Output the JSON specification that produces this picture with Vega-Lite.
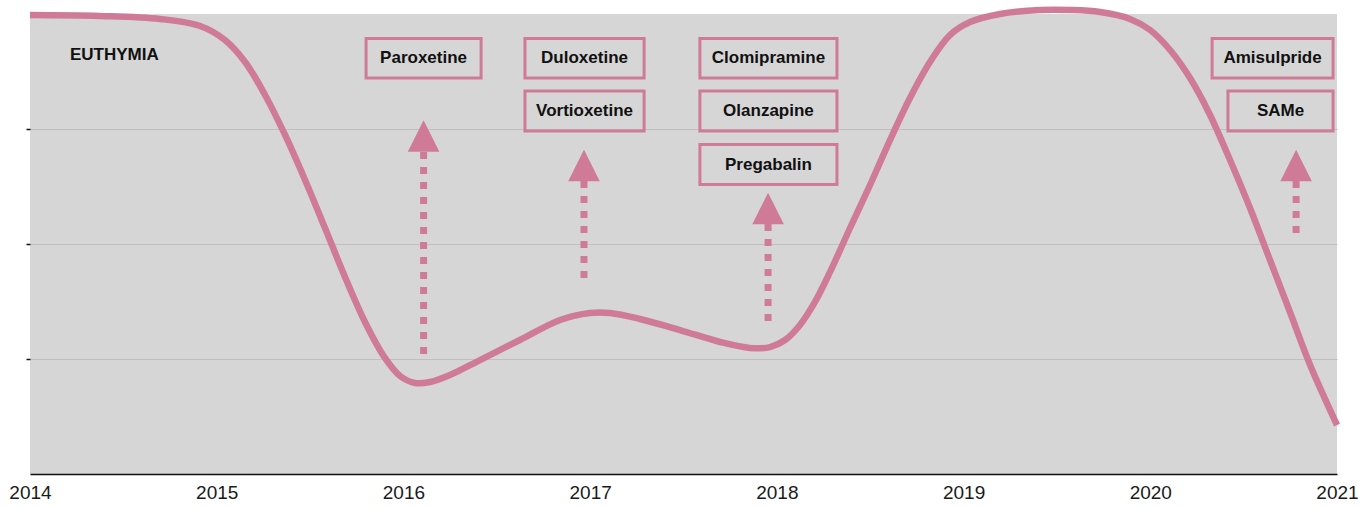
{
  "$schema": "https://vega.github.io/schema/vega-lite/v6.json",
  "width": 1307,
  "height": 460,
  "autosize": "none",
  "padding": {"left": 30, "top": 14, "right": 33, "bottom": 33},
  "background": "#ffffff",
  "config": {
    "view": {"fill": "#d6d6d6", "stroke": null},
    "font": "Liberation Sans"
  },
  "datasets": {
    "curve": [
      {"year": 2014.000, "value": 3.991},
      {"year": 2014.375, "value": 3.983},
      {"year": 2014.696, "value": 3.957},
      {"year": 2014.911, "value": 3.896},
      {"year": 2015.044, "value": 3.774},
      {"year": 2015.152, "value": 3.583},
      {"year": 2015.259, "value": 3.296},
      {"year": 2015.366, "value": 2.948},
      {"year": 2015.473, "value": 2.557},
      {"year": 2015.580, "value": 2.139},
      {"year": 2015.687, "value": 1.713},
      {"year": 2015.794, "value": 1.322},
      {"year": 2015.901, "value": 1.009},
      {"year": 2015.982, "value": 0.852},
      {"year": 2016.062, "value": 0.791},
      {"year": 2016.142, "value": 0.800},
      {"year": 2016.249, "value": 0.861},
      {"year": 2016.410, "value": 0.991},
      {"year": 2016.624, "value": 1.165},
      {"year": 2016.839, "value": 1.339},
      {"year": 2016.999, "value": 1.400},
      {"year": 2017.106, "value": 1.400},
      {"year": 2017.267, "value": 1.348},
      {"year": 2017.481, "value": 1.252},
      {"year": 2017.696, "value": 1.148},
      {"year": 2017.856, "value": 1.096},
      {"year": 2017.963, "value": 1.104},
      {"year": 2018.044, "value": 1.165},
      {"year": 2018.124, "value": 1.296},
      {"year": 2018.204, "value": 1.496},
      {"year": 2018.285, "value": 1.757},
      {"year": 2018.392, "value": 2.139},
      {"year": 2018.499, "value": 2.513},
      {"year": 2018.606, "value": 2.904},
      {"year": 2018.713, "value": 3.270},
      {"year": 2018.820, "value": 3.583},
      {"year": 2018.927, "value": 3.817},
      {"year": 2019.035, "value": 3.930},
      {"year": 2019.195, "value": 4.000},
      {"year": 2019.409, "value": 4.035},
      {"year": 2019.570, "value": 4.035},
      {"year": 2019.731, "value": 4.017},
      {"year": 2019.891, "value": 3.957},
      {"year": 2019.999, "value": 3.861},
      {"year": 2020.106, "value": 3.687},
      {"year": 2020.213, "value": 3.443},
      {"year": 2020.320, "value": 3.122},
      {"year": 2020.427, "value": 2.730},
      {"year": 2020.534, "value": 2.313},
      {"year": 2020.641, "value": 1.861},
      {"year": 2020.748, "value": 1.409},
      {"year": 2020.856, "value": 0.948},
      {"year": 2021.000, "value": 0.426}
    ],
    "boxes": [
      {"drug": "Paroxetine", "year": 2015.800, "year2": 2016.416, "mid": 2016.108, "value": 3.787, "value2": 3.443, "vmid": 3.615},
      {"drug": "Duloxetine", "year": 2016.651, "year2": 2017.289, "mid": 2016.970, "value": 3.787, "value2": 3.443, "vmid": 3.615},
      {"drug": "Vortioxetine", "year": 2016.651, "year2": 2017.289, "mid": 2016.970, "value": 3.330, "value2": 2.983, "vmid": 3.157},
      {"drug": "Clomipramine", "year": 2017.588, "year2": 2018.322, "mid": 2017.955, "value": 3.787, "value2": 3.443, "vmid": 3.615},
      {"drug": "Olanzapine", "year": 2017.588, "year2": 2018.322, "mid": 2017.955, "value": 3.330, "value2": 2.983, "vmid": 3.157},
      {"drug": "Pregabalin", "year": 2017.588, "year2": 2018.322, "mid": 2017.955, "value": 2.865, "value2": 2.517, "vmid": 2.691},
      {"drug": "Amisulpride", "year": 2020.331, "year2": 2020.979, "mid": 2020.655, "value": 3.787, "value2": 3.443, "vmid": 3.615},
      {"drug": "SAMe", "year": 2020.416, "year2": 2020.979, "mid": 2020.698, "value": 3.330, "value2": 2.983, "vmid": 3.157}
    ],
    "arrows": [
      {"year": 2016.108, "top": 2.800, "bottom": 1.009, "head": 2.939},
      {"year": 2016.967, "top": 2.548, "bottom": 1.696, "head": 2.683},
      {"year": 2017.953, "top": 2.174, "bottom": 1.322, "head": 2.309},
      {"year": 2020.781, "top": 2.548, "bottom": 2.052, "head": 2.683}
    ],
    "notes": [
      {"label": "EUTHYMIA", "year": 2014.214, "value": 3.643}
    ]
  },
  "layer": [
    {
      "data": {"name": "curve"},
      "mark": {"type": "line", "interpolate": "catmull-rom", "color": "#cf7b98", "strokeWidth": 6.5, "clip": false},
      "encoding": {
        "x": {
          "field": "year", "type": "quantitative",
          "scale": {"domain": [2014, 2021], "nice": false, "zero": false},
          "axis": {
            "title": null, "values": [2014, 2015, 2016, 2017, 2018, 2019, 2020, 2021],
            "format": "d", "labelFlush": false, "labelOverlap": false,
            "labelFontSize": 19, "labelColor": "#1a1a1a", "labelFont": "Liberation Sans",
            "labelPadding": 9, "ticks": false, "grid": false,
            "domain": true, "domainColor": "#111111", "domainWidth": 1.5
          }
        },
        "y": {
          "field": "value", "type": "quantitative",
          "scale": {"domain": [0, 4], "nice": false, "zero": false},
          "axis": {
            "title": null, "values": [1, 2, 3], "labels": false,
            "ticks": true, "tickSize": 4, "tickColor": "#111111", "tickWidth": 1.5,
            "domain": false, "grid": true, "gridColor": "#bfbfbf", "gridWidth": 1
          }
        }
      }
    },
    {
      "data": {"name": "boxes"},
      "mark": {"type": "rect", "fill": "#d6d6d6", "fillOpacity": 0, "stroke": "#cf7b98", "strokeWidth": 3},
      "encoding": {
        "x": {"field": "year", "type": "quantitative", "title": null},
        "x2": {"field": "year2"},
        "y": {"field": "value", "type": "quantitative", "title": null},
        "y2": {"field": "value2"}
      }
    },
    {
      "data": {"name": "boxes"},
      "mark": {"type": "text", "font": "Liberation Sans", "fontWeight": "bold", "fontSize": 17, "color": "#111111", "align": "center", "baseline": "middle"},
      "encoding": {
        "x": {"field": "mid", "type": "quantitative", "title": null},
        "y": {"field": "vmid", "type": "quantitative", "title": null},
        "text": {"field": "drug"}
      }
    },
    {
      "data": {"name": "arrows"},
      "mark": {"type": "rule", "color": "#cf7b98", "strokeWidth": 7, "strokeDash": [7, 8]},
      "encoding": {
        "x": {"field": "year", "type": "quantitative", "title": null},
        "y": {"field": "top", "type": "quantitative", "title": null},
        "y2": {"field": "bottom"}
      }
    },
    {
      "data": {"name": "arrows"},
      "mark": {"type": "point", "shape": "M0,-1L1,1L-1,1Z", "filled": true, "size": 1000, "color": "#cf7b98", "opacity": 1, "strokeWidth": 0},
      "encoding": {
        "x": {"field": "year", "type": "quantitative", "title": null},
        "y": {"field": "head", "type": "quantitative", "title": null}
      }
    },
    {
      "data": {"name": "notes"},
      "mark": {"type": "text", "font": "Liberation Sans", "fontWeight": "bold", "fontSize": 17, "color": "#111111", "align": "left", "baseline": "middle"},
      "encoding": {
        "x": {"field": "year", "type": "quantitative", "title": null},
        "y": {"field": "value", "type": "quantitative", "title": null},
        "text": {"field": "label"}
      }
    }
  ]
}
